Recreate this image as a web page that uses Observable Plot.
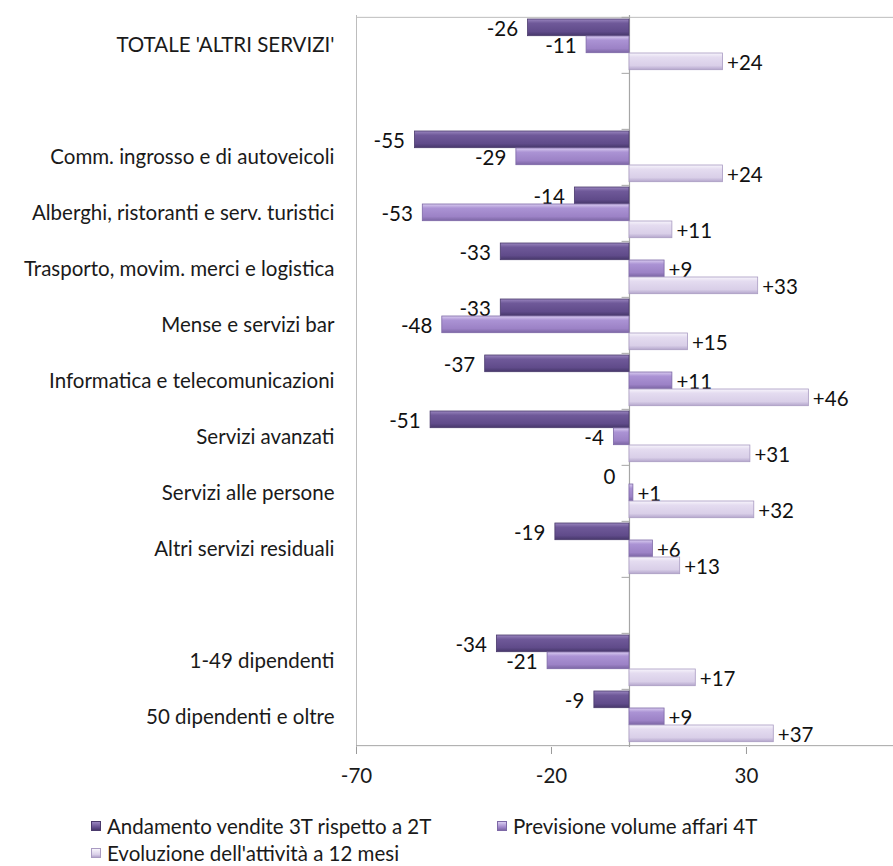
<!DOCTYPE html>
<html>
<head>
<meta charset="utf-8">
<script src="https://cdn.jsdelivr.net/npm/d3@7"></script>
<script src="https://cdn.jsdelivr.net/npm/@observablehq/plot@0.6"></script>
<style>
  body { margin: 0; background: #fff; font-family: Lato, "Open Sans", sans-serif; }
  #wrap { position: relative; width: 893px; height: 866px; overflow: hidden; }
  #legend { position: absolute; left: 0; top: 0; width: 893px; font-size: 20.5px; color: #1a1a1a; }
  .item { position: absolute; display: flex; align-items: center; white-space: nowrap; }
  .sw { width: 10px; height: 10px; margin-right: 6px; box-sizing: border-box; }
</style>
</head>
<body>
<div id="wrap"><div id="chart"></div><div id="legend"></div></div>
<script>
const categories = [
  "TOTALE 'ALTRI SERVIZI'",
  " ",
  "Comm. ingrosso e di autoveicoli",
  "Alberghi, ristoranti e serv. turistici",
  "Trasporto, movim. merci e logistica",
  "Mense e servizi bar",
  "Informatica e telecomunicazioni",
  "Servizi avanzati",
  "Servizi alle persone",
  "Altri servizi residuali",
  "  ",
  "1-49 dipendenti",
  "50 dipendenti e oltre"
];
const vendite    = [-26, null, -55, -14, -33, -33, -37, -51, 0, -19, null, -34, -9];
const previsione = [-11, null, -29, -53,   9, -48,  11,  -4, 1,   6, null, -21,  9];
const evoluzione = [ 24, null,  24,  11,  33,  15,  46,  31, 32, 13, null,  17, 37];
const seriesNames = [
  "Andamento vendite 3T rispetto a 2T",
  "Previsione volume affari 4T",
  "Evoluzione dell'attività a 12 mesi"
];
const xTicks = [-70, -20, 30];

const seriesValues = [vendite, previsione, evoluzione];
const gradIds = ["gDark", "gMed", "gLight"];
const strokes = ["#4a3a6c", "#7d68a6", "#a99bc2"];
const FS = 20.5;

const data = [];
seriesValues.forEach((vals, s) => {
  vals.forEach((v, i) => {
    if (v !== null) data.push({cat: categories[i], value: v, s});
  });
});

const marginTop = 15, marginBottom = 43, height = 790;
const band = (height - marginTop - marginBottom) / categories.length;
const slot = [[2, 19], [19, 36], [36, 53]];

const marks = [];
// plot-area border: left, top, bottom (axis line)
marks.push(Plot.ruleX([-70], {stroke: "#bdbdbd"}));
marks.push(Plot.ruleY([categories[0]], {y: d => d, dy: -band / 2, stroke: "#bdbdbd"}));
marks.push(Plot.ruleY([categories[categories.length - 1]], {y: d => d, dy: band / 2, stroke: "#a6a6a6"}));
// zero line
marks.push(Plot.ruleX([0], {stroke: "#a6a6a6", strokeWidth: 1.2}));
// category tick marks on zero line at band boundaries
marks.push(Plot.ruleY(categories, {y: d => d, dy: -band / 2, x1: -1.9, x2: 0, stroke: "#a6a6a6"}));
for (let s = 0; s < 3; s++) {
  const d = data.filter(r => r.s === s);
  marks.push(Plot.barX(d, {
    y: "cat", x: "value",
    insetTop: slot[s][0], insetBottom: band - slot[s][1],
    fill: `url(#${gradIds[s]})`, stroke: strokes[s], strokeWidth: 0.8
  }));
  const off = (slot[s][0] + slot[s][1]) / 2 - band / 2 + 2;
  marks.push(Plot.text(d.filter(r => r.value < 0), {
    y: "cat", x: "value", text: r => String(r.value),
    dy: off, dx: -10, textAnchor: "end",
    fill: "#111", fontSize: FS
  }));
  marks.push(Plot.text(d.filter(r => r.value === 0), {
    y: "cat", x: "value", text: r => String(r.value),
    dy: off, dx: -14, textAnchor: "end",
    fill: "#111", fontSize: FS
  }));
  marks.push(Plot.text(d.filter(r => r.value > 0), {
    y: "cat", x: "value", text: r => "+" + r.value,
    dy: off, dx: 4, textAnchor: "start",
    fill: "#111", fontSize: FS
  }));
}

const chart = Plot.plot({
  width: 893, height,
  marginTop, marginBottom, marginLeft: 356, marginRight: 0,
  style: {fontFamily: "Lato, 'Open Sans', sans-serif", fontSize: FS + "px", color: "#1a1a1a", background: "#fff"},
  x: {domain: [-70, 67.7], ticks: xTicks},
  y: {domain: categories, padding: 0},
  marks: [
    ...marks,
    Plot.axisX({ticks: xTicks, tickSize: 7, tickPadding: 14, label: null, stroke: "#9a9a9a", fontSize: FS, tickFormat: d => String(d)}),
    Plot.axisY({tickSize: 0, tickPadding: 22, label: null, fontSize: FS})
  ]
});

const defs = d3.select(chart).insert("defs", ":first-child");
const gradStops = {
  gDark:  [["0", "#9a86bf"], ["0.25", "#6f5999"], ["0.75", "#604b8a"], ["1", "#46376a"]],
  gMed:   [["0", "#d9ccf0"], ["0.25", "#ab93d4"], ["0.75", "#9c82c6"], ["1", "#7c66a4"]],
  gLight: [["0", "#f8f5fc"], ["0.25", "#e4dcf0"], ["0.75", "#d9cfe8"], ["1", "#b4a6cc"]]
};
for (const id of gradIds) {
  const g = defs.append("linearGradient").attr("id", id).attr("x1", 0).attr("y1", 0).attr("x2", 0).attr("y2", 1);
  for (const [o, c] of gradStops[id]) g.append("stop").attr("offset", o).attr("stop-color", c);
}
document.getElementById("chart").appendChild(chart);

// legend
const legend = document.getElementById("legend");
const pos = [[91, 826], [497, 826], [91, 853]];
const swFill = [
  "linear-gradient(#9a86bf, #604b8a 70%, #46376a)",
  "linear-gradient(#d9ccf0, #9c82c6 70%, #7c66a4)",
  "linear-gradient(#f8f5fc, #d9cfe8 70%, #b4a6cc)"
];
seriesNames.forEach((name, s) => {
  const it = document.createElement("div");
  it.className = "item";
  it.style.left = pos[s][0] + "px";
  it.style.top = (pos[s][1] - 13) + "px";
  it.style.height = "26px";
  const sw = document.createElement("span");
  sw.className = "sw";
  sw.style.background = swFill[s];
  sw.style.border = "1px solid " + strokes[s];
  it.appendChild(sw);
  const tx = document.createElement("span");
  tx.textContent = name;
  it.appendChild(tx);
  legend.appendChild(it);
});
</script>
</body>
</html>
